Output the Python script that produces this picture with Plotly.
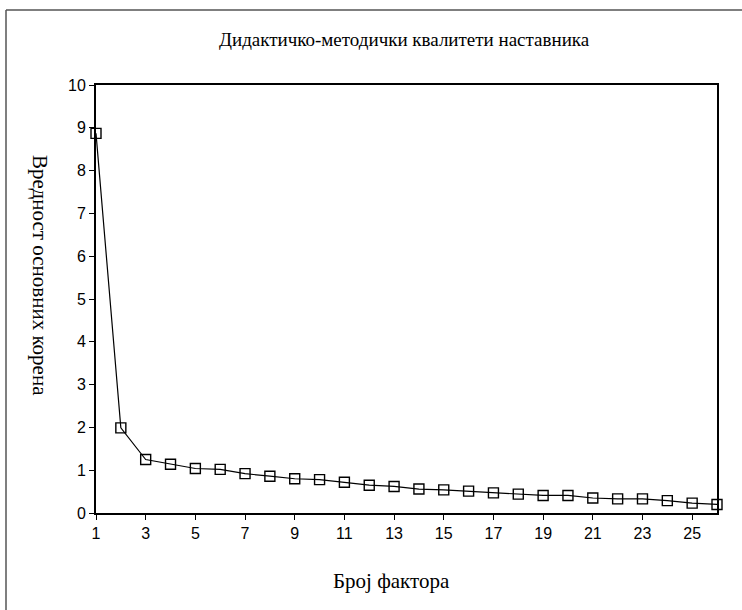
import plotly.graph_objects as go

factors = list(range(1, 27))
eigenvalues = [8.87, 1.99, 1.25, 1.14, 1.04, 1.02, 0.92, 0.86, 0.80, 0.78,
               0.72, 0.65, 0.62, 0.56, 0.54, 0.51, 0.47, 0.44, 0.41, 0.41,
               0.35, 0.33, 0.33, 0.29, 0.23, 0.20]
x_ticks = list(range(1, 26, 2))
y_ticks = list(range(0, 11))

title_text = "Дидактичко-методички квалитети наставника"
x_title = "Број фактора"
y_title = "Вредност основних корена"

W, H = 742, 610
L, R, T, B = 96, 25, 85, 97
pw, ph = W - L - R, H - T - B

def px_x(p):
    return (p - L) / pw

def px_y(p):
    return (H - B - p) / ph

fig = go.Figure()
fig.add_trace(go.Scatter(
    x=factors, y=eigenvalues, mode="lines+markers",
    line=dict(color="black", width=1.2),
    marker=dict(symbol="square-open", size=10, color="black",
                line=dict(width=1.4, color="black")),
    cliponaxis=False, showlegend=False, hoverinfo="x+y"))

serif = "Liberation Serif, Times New Roman, serif"
sans = "Liberation Sans, Arial, sans-serif"

fig.update_layout(
    width=W, height=H,
    margin=dict(l=L, r=R, t=T, b=B),
    paper_bgcolor="white", plot_bgcolor="white",
    showlegend=False,
    xaxis=dict(range=[1, 26], tickvals=x_ticks, ticks="outside", ticklen=5,
               tickwidth=1.2, tickcolor="black", showline=True, linewidth=2,
               linecolor="black", mirror=True, showgrid=False, zeroline=False,
               tickfont=dict(family=sans, size=16, color="black")),
    yaxis=dict(range=[0, 10], tickvals=y_ticks, ticks="outside", ticklen=5,
               tickwidth=1.2, tickcolor="black", showline=True, linewidth=2,
               linecolor="black", mirror=True, showgrid=False, zeroline=False,
               tickfont=dict(family=sans, size=16, color="black")),
    annotations=[
        dict(text=title_text, xref="paper", yref="paper",
             x=px_x(404), y=px_y(39), showarrow=False,
             xanchor="center", yanchor="middle",
             font=dict(family=serif, size=19, color="black")),
        dict(text=x_title, xref="paper", yref="paper",
             x=px_x(391), y=px_y(581), showarrow=False,
             xanchor="center", yanchor="middle",
             font=dict(family=serif, size=21, color="black")),
        dict(text=y_title, xref="paper", yref="paper",
             x=px_x(40), y=px_y(275), showarrow=False, textangle=90,
             xanchor="center", yanchor="middle",
             font=dict(family=serif, size=21, color="black")),
    ],
    shapes=[
        dict(type="line", xref="paper", yref="paper",
             x0=px_x(6), y0=px_y(10), x1=px_x(742), y1=px_y(10),
             line=dict(color="#555555", width=1.5)),
        dict(type="line", xref="paper", yref="paper",
             x0=px_x(6), y0=px_y(10), x1=px_x(6), y1=px_y(610),
             line=dict(color="#555555", width=1.5)),
    ],
)

fig.write_html("out.html", config={"displayModeBar": False},
               post_script="document.body.style.margin='0';")
